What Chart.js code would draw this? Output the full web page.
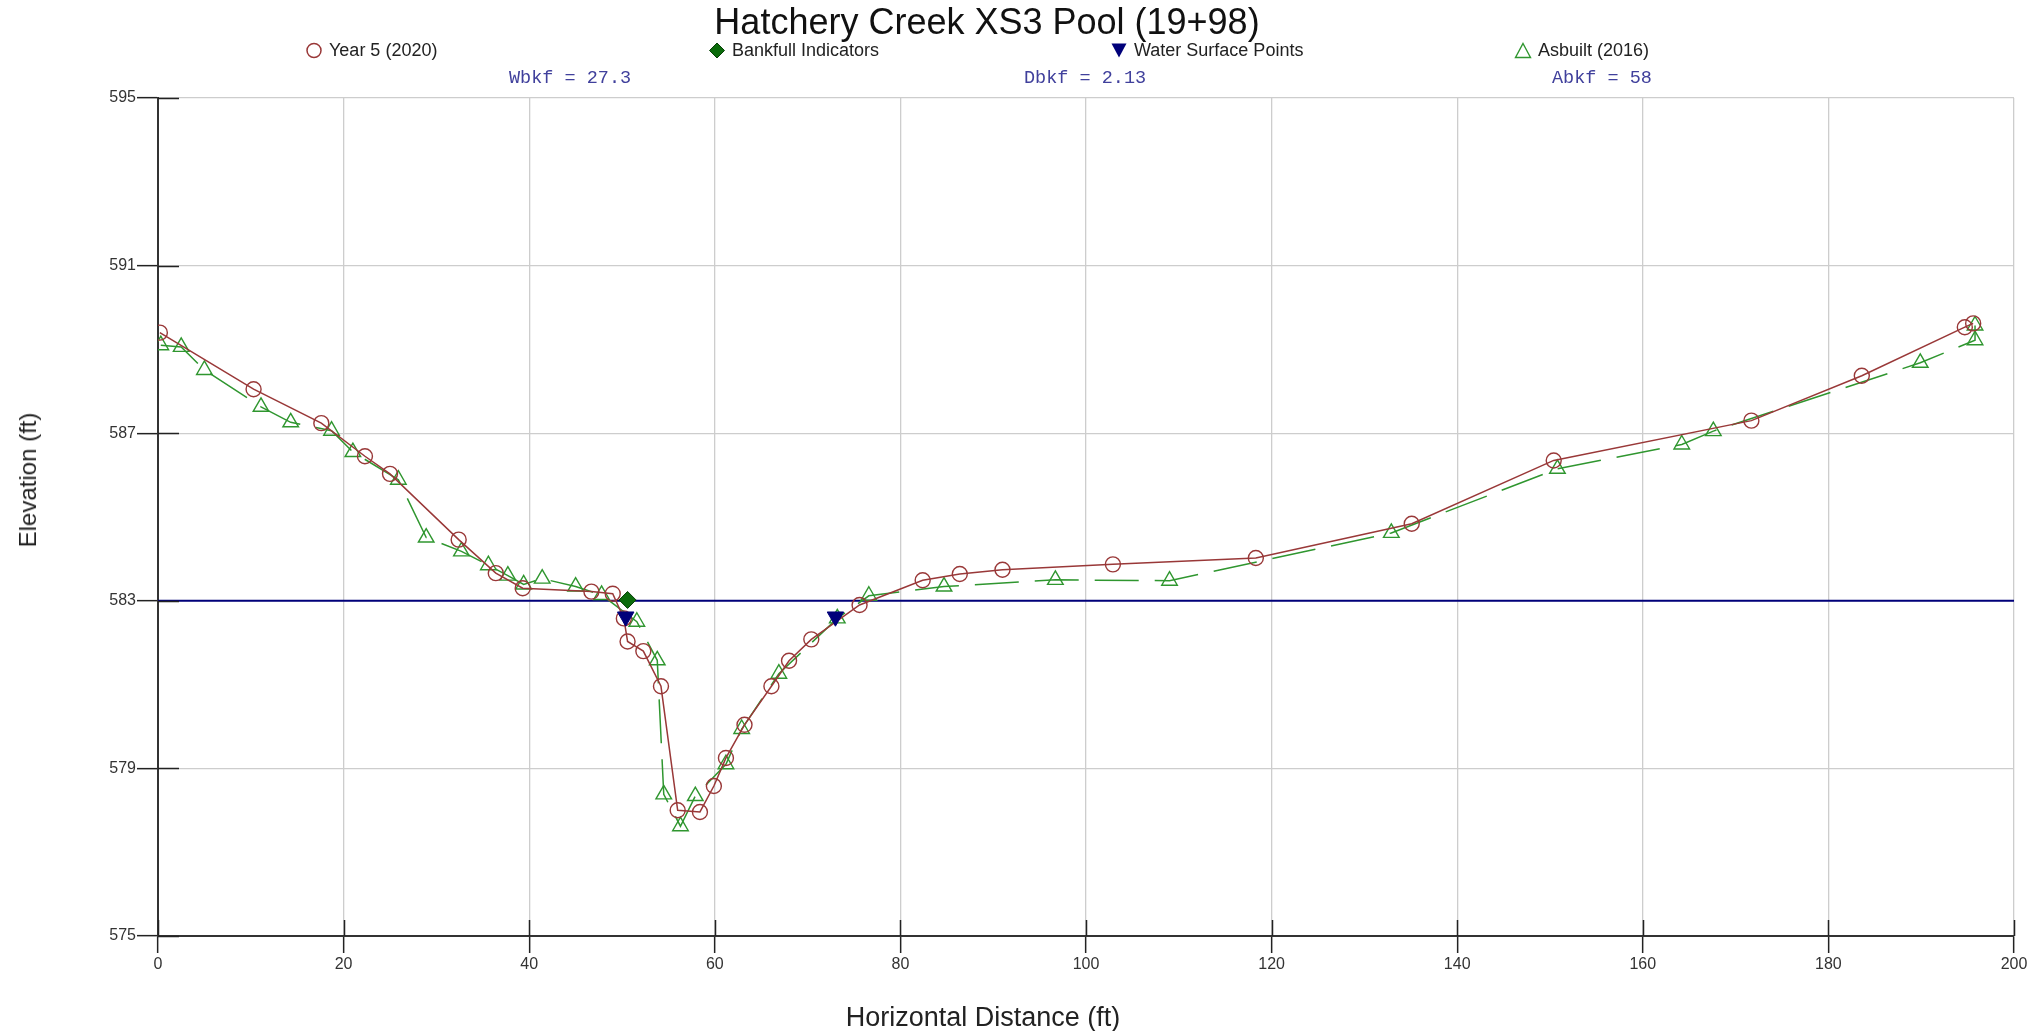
<!DOCTYPE html>
<html>
<head>
<meta charset="utf-8">
<title>Hatchery Creek XS3 Pool (19+98)</title>
<script src="https://cdn.jsdelivr.net/npm/chart.js@4.4.1/dist/chart.umd.min.js"></script>
<style>
  html, body { margin: 0; padding: 0; background: #fff; }
  body { width: 2036px; height: 1031px; position: relative; overflow: hidden; font-family: "Liberation Sans", Arial, sans-serif; }
  #chartWrap { position: absolute; left: 0; top: 0; width: 2036px; height: 1031px; }
  .title { position: absolute; left: 987px; top: 22px; transform: translate(-50%, -50%); font-size: 36px; color: #111; white-space: nowrap; }
  .legend-item { position: absolute; top: 50px; transform: translateY(-50%); font-size: 18px; color: #222; white-space: nowrap; display: flex; align-items: center; }
  .legend-item svg { margin-right: 6px; }
  .stat { position: absolute; top: 78px; transform: translateY(-50%); font-family: "Liberation Mono", "Courier New", monospace; font-size: 18.5px; color: #40409c; white-space: pre; }
  .axis-title { position: absolute; color: #222; white-space: nowrap; }
  #xTitle { left: 983px; top: 1017px; transform: translate(-50%, -50%); font-size: 27px; }
  #yTitle { left: 28px; top: 480px; transform: translate(-50%, -50%) rotate(-90deg); font-size: 24px; }
</style>
</head>
<body>
<div id="chartWrap"><canvas id="xsChart" width="2036" height="1031"></canvas></div>
<div class="title">Hatchery Creek XS3 Pool (19+98)</div>
<div id="legend"></div>
<div class="stat" style="left:509px">Wbkf = 27.3</div>
<div class="stat" style="left:1024px">Dbkf = 2.13</div>
<div class="stat" style="left:1552px">Abkf = 58</div>
<div class="axis-title" id="xTitle">Horizontal Distance (ft)</div>
<div class="axis-title" id="yTitle">Elevation (ft)</div>
<script>
// data
const year5X = [0.2, 10.3, 17.6, 22.3, 25.0, 32.4, 36.4, 39.3, 46.7, 49.0, 50.2, 50.6, 52.3, 54.2, 56.0, 58.4, 59.9, 61.2, 63.2, 66.1, 68.0, 70.4, 75.6, 82.4, 86.4, 91.0, 102.9, 118.3, 135.1, 150.4, 171.7, 183.6, 194.7, 195.6];
const year5Y = [589.40, 588.05, 587.24, 586.45, 586.03, 584.46, 583.66, 583.30, 583.22, 583.17, 582.58, 582.03, 581.80, 580.96, 578.00, 577.96, 578.58, 579.25, 580.04, 580.96, 581.57, 582.08, 582.90, 583.49, 583.64, 583.74, 583.87, 584.02, 584.84, 586.35, 587.30, 588.37, 589.53, 589.62];

const asbuiltX = [0.3, 2.5, 5.0, 11.1, 14.3, 18.7, 21.0, 25.9, 28.9, 32.7, 35.6, 37.7, 39.4, 41.4, 45.0, 47.8, 51.6, 53.8, 54.5, 56.3, 57.9, 61.2, 62.9, 66.9, 73.2, 76.6, 84.7, 96.7, 109.0, 132.9, 150.8, 164.2, 167.6, 189.9, 195.8, 195.8];
const asbuiltY = [589.10, 589.06, 588.51, 587.63, 587.26, 587.06, 586.55, 585.89, 584.51, 584.18, 583.85, 583.60, 583.39, 583.53, 583.34, 583.14, 582.50, 581.58, 578.38, 577.62, 578.34, 579.10, 579.94, 581.26, 582.58, 583.12, 583.34, 583.50, 583.48, 584.62, 586.15, 586.73, 587.05, 588.68, 589.22, 589.57];

const bankfullX = [50.6];
const bankfullY = [583.02];

const waterX = [50.4, 73.0];
const waterY = [582.62, 582.62];

const bkfLineX = [0, 200];
const bkfLineY = [583, 583];

const xTicks = [0, 20, 40, 60, 80, 100, 120, 140, 160, 180, 200];
const yTicks = [575, 579, 583, 587, 591, 595];

const toPoints = (xs, ys) => xs.map((x, i) => ({ x: x, y: ys[i] }));

const maroon = "#993838";
const green = "#2f962f";
const darkGreen = "#0b6b0b";
const navy = "#00007a";

// setup
const data = {
  datasets: [
    {
      label: "Year 5 (2020)",
      data: toPoints(year5X, year5Y),
      showLine: true,
      borderColor: maroon,
      borderWidth: 1.5,
      pointStyle: "circle",
      pointRadius: 7.5,
      pointBorderColor: maroon,
      pointBackgroundColor: "rgba(0,0,0,0)",
      pointBorderWidth: 1.4,
      order: 2,
    },
    {
      label: "Bankfull Indicators",
      data: toPoints(bankfullX, bankfullY),
      pointStyle: "rectRot",
      pointRadius: 8.5,
      pointBackgroundColor: darkGreen,
      pointBorderColor: "#064006",
      pointBorderWidth: 1,
      order: 0,
    },
    {
      label: "Water Surface Points",
      data: toPoints(waterX, waterY),
      pointStyle: "triangle",
      rotation: 180,
      pointRadius: 9.5,
      pointBackgroundColor: navy,
      pointBorderColor: navy,
      pointBorderWidth: 1,
      order: 1,
    },
    {
      label: "Asbuilt (2016)",
      data: toPoints(asbuiltX, asbuiltY),
      showLine: true,
      borderColor: green,
      borderWidth: 1.5,
      borderDash: [44, 16],
      pointStyle: "triangle",
      pointRadius: 9,
      pointBorderColor: green,
      pointBackgroundColor: "rgba(0,0,0,0)",
      pointBorderWidth: 1.4,
      order: 3,
    },
    {
      label: "Bankfull",
      data: toPoints(bkfLineX, bkfLineY),
      showLine: true,
      borderColor: navy,
      borderWidth: 2,
      pointRadius: 0,
      order: 4,
    },
  ],
};

// black tick marks crossing into the plot
const innerTicks = {
  id: "innerTicks",
  afterDraw(chart) {
    const { ctx, chartArea, scales } = chart;
    ctx.save();
    ctx.strokeStyle = "#222";
    ctx.lineWidth = 1.5;
    ctx.beginPath();
    yTicks.forEach((v) => {
      const py = Math.round(scales.y.getPixelForValue(v)) + 0.5;
      ctx.moveTo(chartArea.left, py);
      ctx.lineTo(chartArea.left + 21, py);
    });
    xTicks.forEach((v) => {
      const px = Math.round(scales.x.getPixelForValue(v)) + 0.5;
      ctx.moveTo(px, chartArea.bottom);
      ctx.lineTo(px, chartArea.bottom - 16);
    });
    ctx.stroke();
    ctx.restore();
  },
};

// config
const config = {
  type: "scatter",
  data,
  options: {
    responsive: false,
    animation: false,
    layout: { padding: { top: 98, right: 22, left: 0, bottom: 0 } },
    plugins: {
      legend: { display: false },
      title: { display: false },
      tooltip: { enabled: false },
    },
    scales: {
      x: {
        type: "linear",
        min: 0,
        max: 200,
        afterBuildTicks: (scale) => { scale.ticks = xTicks.map((v) => ({ value: v })); },
        afterFit: (scale) => { scale.height = 95; },
        ticks: {
          color: "#333",
          font: { family: "Liberation Sans", size: 16 },
          padding: 2,
        },
        grid: { color: "#cdcdcd", lineWidth: 1.3, tickLength: 17, tickColor: "#222", tickWidth: 1.5 },
        border: { color: "#333", width: 2 },
      },
      y: {
        type: "linear",
        min: 575,
        max: 595,
        afterBuildTicks: (scale) => { scale.ticks = yTicks.map((v) => ({ value: v })); },
        afterFit: (scale) => { scale.width = 158; },
        ticks: {
          color: "#333",
          font: { family: "Liberation Sans", size: 16 },
          padding: 1,
        },
        grid: { color: "#cdcdcd", lineWidth: 1.3, tickLength: 21, tickColor: "#222", tickWidth: 1.5 },
        border: { color: "#333", width: 2 },
      },
    },
  },
  plugins: [innerTicks],
};

// init
const xsChart = new Chart(document.getElementById("xsChart"), config);

// legend
const legendSymbols = {
  "Year 5 (2020)": '<svg width="18" height="18"><circle cx="9" cy="9" r="7" fill="none" stroke="' + maroon + '" stroke-width="1.5"/></svg>',
  "Bankfull Indicators": '<svg width="18" height="18"><polygon points="9,1.5 16.5,9 9,16.5 1.5,9" fill="' + darkGreen + '" stroke="#064006"/></svg>',
  "Water Surface Points": '<svg width="18" height="18"><polygon points="1.5,2 16.5,2 9,16" fill="' + navy + '"/></svg>',
  "Asbuilt (2016)": '<svg width="18" height="18"><polygon points="9,2 16.5,16 1.5,16" fill="none" stroke="' + green + '" stroke-width="1.4"/></svg>',
};
const legendLeft = [305, 708, 1110, 1514];
const legendBox = document.getElementById("legend");
data.datasets.slice(0, 4).forEach((ds, i) => {
  const item = document.createElement("div");
  item.className = "legend-item";
  item.style.left = legendLeft[i] + "px";
  item.innerHTML = legendSymbols[ds.label] + "<span>" + ds.label + "</span>";
  legendBox.appendChild(item);
});
</script>
</body>
</html>
